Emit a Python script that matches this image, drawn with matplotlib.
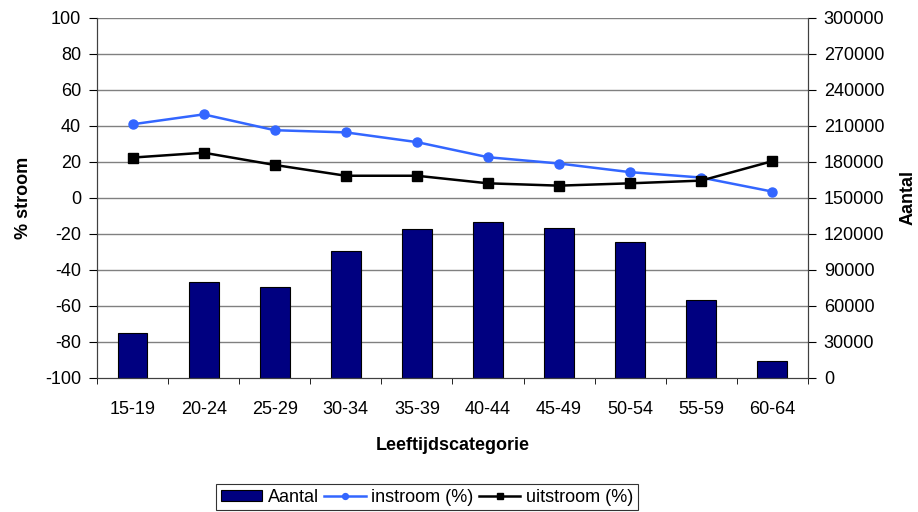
import numpy as np
import matplotlib.pyplot as plt
from matplotlib.ticker import FixedLocator

plt.rcParams['font.family'] = ['Liberation Sans', 'DejaVu Sans']
plt.rcParams['axes.unicode_minus'] = False

categories = ['15-19', '20-24', '25-29', '30-34', '35-39',
              '40-44', '45-49', '50-54', '55-59', '60-64']
aantal = [37500, 80000, 75800, 105800, 123800, 130000, 125000, 113000, 65000, 14200]
instroom = [40.9, 46.4, 37.6, 36.4, 31.0, 22.6, 19.1, 14.3, 11.3, 3.5]
uitstroom = [22.4, 25.1, 18.3, 12.3, 12.3, 8.1, 6.8, 8.1, 9.6, 20.4]

FS = 13
x = np.arange(len(categories))

fig = plt.figure(figsize=(9.18, 5.12), dpi=100)
ax = fig.add_axes([0.1057, 0.262, 0.7743, 0.703])
ax2 = ax.twinx()

# bars on the right axis, drawn below the lines
ax2.bar(x, aantal, width=0.42, color='#000080', edgecolor='black',
        linewidth=0.8, label='Aantal', zorder=2)
ax2.set_ylim(0, 300000)
ax2.set_yticks(np.arange(0, 300001, 30000))
ax2.set_ylabel('Aantal', fontsize=FS, fontweight='bold', labelpad=11)

ax.set_zorder(ax2.get_zorder() + 1)
ax.patch.set_visible(False)

ax.plot(x, instroom, color='#3366FF', marker='o', markersize=6.5,
        linewidth=1.8, label='instroom (%)')
ax.plot(x, uitstroom, color='black', marker='s', markersize=6.5,
        linewidth=1.8, label='uitstroom (%)')
ax.set_ylim(-100, 100)
ax.set_yticks(np.arange(-100, 101, 20))
ax.set_ylabel('% stroom', fontsize=FS, fontweight='bold', labelpad=9)

ax.set_xlim(-0.5, len(categories) - 0.5)
ax.set_xticks(x)
ax.set_xticklabels(categories)
ax.xaxis.set_minor_locator(FixedLocator(np.arange(-0.5, len(categories), 1)))
ax.tick_params(axis='x', which='major', length=0, pad=17)
ax.tick_params(axis='x', which='minor', length=4.5, direction='out')
ax.set_xlabel('Leeftijdscategorie', fontsize=FS, fontweight='bold', labelpad=13)

# horizontal gridlines behind everything
for v in np.arange(-80, 101, 20):
    ax2.axhline((v + 100) * 1500, color='#808080', linewidth=1, zorder=0)

for a in (ax, ax2):
    a.tick_params(axis='y', length=5.5, direction='out', pad=6, labelsize=FS)
    a.tick_params(axis='x', labelsize=FS)
    a.spines['top'].set_visible(False)
    for s in ('left', 'right', 'bottom'):
        a.spines[s].set_color('#404040')

h1, l1 = ax2.get_legend_handles_labels()
h2, l2 = ax.get_legend_handles_labels()
leg = fig.legend(h1 + h2, l1 + l2, loc='center', bbox_to_anchor=(0.465, 0.029),
                 ncol=3, fontsize=FS, frameon=True, fancybox=False,
                 handlelength=2.3, handleheight=0.6, handletextpad=0.3,
                 columnspacing=0.3, borderpad=0.25, markerscale=0.65)
leg.get_frame().set_edgecolor('black')
leg.get_frame().set_linewidth(0.8)

fig.savefig('out.png', dpi=100)
